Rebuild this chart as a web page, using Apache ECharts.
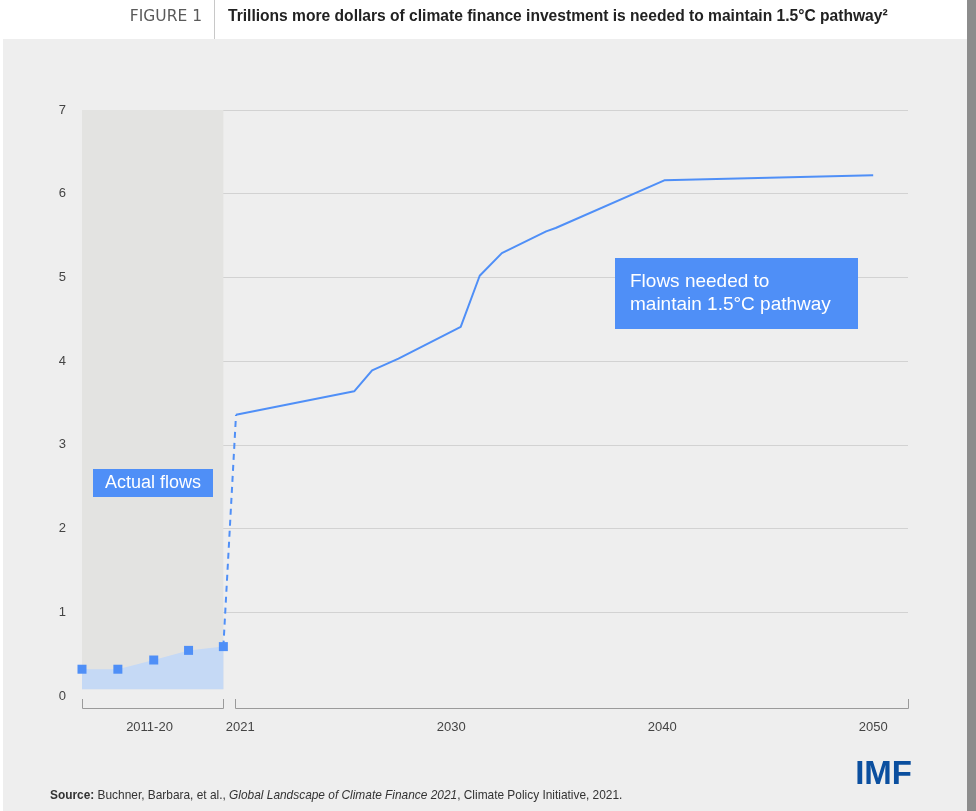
<!DOCTYPE html>
<html><head><meta charset="utf-8">
<script src="https://cdn.jsdelivr.net/npm/echarts@6/dist/echarts.min.js"></script>
<style>html,body{margin:0;padding:0;background:#fff}#c{width:976px;height:811px}</style>
</head><body><div id="c"></div>
<script>
// ---- data ----
// historical (2011-20) actual flows, trillions USD; x = position on the time axis
const histX = [2012.5, 2014.2, 2015.9, 2017.55, 2019.2];
const histY = [0.32, 0.32, 0.43, 0.545, 0.59];
const histBase = 0.08;
// flows needed to maintain 1.5°C pathway
const needX = [2019.8, 2025.4, 2026.25, 2027.5, 2030.45, 2031.35, 2032.4, 2034.5, 2034.95, 2040.1, 2050];
const needY = [3.36, 3.64, 3.89, 4.03, 4.41, 5.02, 5.29, 5.55, 5.59, 6.16, 6.22];
// x-axis tick labels and positions
const xTickPos = [2015.7, 2020.0, 2030, 2040, 2050];
const xTickLabels = ['2011-20', '2021', '2030', '2040', '2050'];
const xMin = 2012.5, xMax = 2051.65;
const yMax = 7;

const blue = '#4f8ff7';
const chart = echarts.init(document.getElementById('c'));
const FONT = '"Liberation Sans", Arial, sans-serif';

const brackets = [[histX[0], histX[histX.length - 1]], [needX[0] - 0.05, xMax]];

chart.setOption({
  backgroundColor: '#ffffff',
  animation: false,
  textStyle: { fontFamily: FONT },
  grid: { left: 82, right: 68, top: 110, bottom: 115 },
  graphic: [
    { type: 'rect', z: -10, shape: { x: 3, y: 39, width: 964, height: 772 }, style: { fill: '#eeeeee' } },
    { type: 'rect', z: -10, shape: { x: 967, y: 0, width: 9, height: 811 }, style: { fill: '#8c8c8c' } },
    { type: 'line', shape: { x1: 214.5, y1: 0, x2: 214.5, y2: 39 }, style: { stroke: '#c8c8c8', lineWidth: 1 } },
    { type: 'text', x: 202, y: 17, style: { text: 'FIGURE 1', font: 'normal 15.5px "DejaVu Sans", ' + FONT, fill: '#5a5a5a', align: 'right', verticalAlign: 'middle' } },
    { type: 'text', x: 228, y: 17, style: { text: 'Trillions more dollars of climate finance investment is needed to maintain 1.5°C pathway²', font: 'bold 15.6px ' + FONT, fill: '#222', align: 'left', verticalAlign: 'middle' } },
    { type: 'rect', z: 20, shape: { x: 93, y: 469, width: 120, height: 28 }, style: { fill: blue } },
    { type: 'text', z: 21, x: 153, y: 483.5, style: { text: 'Actual flows', font: '18px ' + FONT, fill: '#ffffff', align: 'center', verticalAlign: 'middle' } },
    { type: 'rect', z: 20, shape: { x: 615, y: 258, width: 243, height: 71 }, style: { fill: blue } },
    { type: 'text', z: 21, x: 630, y: 293.5, style: { text: 'Flows needed to\nmaintain 1.5°C pathway', font: '19px ' + FONT, fill: '#ffffff', lineHeight: 23, align: 'left', verticalAlign: 'middle' } },
    { type: 'text', x: 50, y: 796, style: {
      text: '{b|Source:} Buchner, Barbara, et al., {i|Global Landscape of Climate Finance 2021}, Climate Policy Initiative, 2021.',
      verticalAlign: 'middle',
      font: '11.9px ' + FONT, fill: '#333',
      rich: { b: { fontWeight: 'bold', fontSize: 11.9, fill: '#333' }, i: { fontStyle: 'italic', fontSize: 11.9, fill: '#333' } } } },
    { type: 'text', x: 912, y: 775, style: { text: 'IMF', font: 'bold 33px ' + FONT, fill: '#0b4f9f', align: 'right', verticalAlign: 'middle' } }
  ],
  xAxis: {
    type: 'value', min: xMin, max: xMax,
    axisLine: { show: false }, axisTick: { show: false }, splitLine: { show: false },
    axisLabel: {
      customValues: xTickPos, margin: 25, color: '#444', fontSize: 13,
      formatter: (v) => { const i = xTickPos.findIndex(p => Math.abs(p - v) < 1e-6); return i >= 0 ? xTickLabels[i] : ''; }
    }
  },
  yAxis: {
    type: 'value', min: 0, max: yMax, interval: 1,
    axisLine: { show: false }, axisTick: { show: false },
    axisLabel: { margin: 16, color: '#444', fontSize: 13 },
    splitLine: { showMinLine: false, lineStyle: { color: '#d2d2d2', width: 1 } }
  },
  series: [
    { // shaded historical period
      type: 'line', data: [], silent: true,
      markArea: { silent: true, itemStyle: { color: '#e3e3e1' },
        data: [[{ coord: [histX[0], yMax] }, { coord: [histX[histX.length - 1], histBase] }]] }
    },
    {
      type: 'line', name: 'Actual flows',
      data: histX.map((x, i) => [x, histY[i]]),
      symbol: 'rect', symbolSize: 9, itemStyle: { color: blue },
      lineStyle: { width: 0 },
      areaStyle: { color: '#c5d9f5', opacity: 1, origin: histBase },
      z: 5
    },
    {
      type: 'line', name: 'connector',
      data: [[histX[histX.length - 1], histY[histY.length - 1]], [needX[0], needY[0]]],
      symbol: 'none', lineStyle: { color: blue, width: 2, type: [6, 5] }, z: 4
    },
    {
      type: 'line', name: 'Flows needed',
      data: needX.map((x, i) => [x, needY[i]]),
      symbol: 'none', lineStyle: { color: blue, width: 2 }, z: 4
    },
    {
      type: 'custom', name: 'brackets', clip: false, silent: true,
      data: brackets,
      renderItem: (params, api) => {
        const a = api.coord([api.value(0), 0]);
        const b = api.coord([api.value(1), 0]);
        const y = a[1] + 12.5, yt = a[1] + 3;
        return { type: 'polyline', shape: { points: [[Math.round(a[0]) + 0.5, yt], [Math.round(a[0]) + 0.5, y], [Math.round(b[0]) + 0.5, y], [Math.round(b[0]) + 0.5, yt]] },
          style: { stroke: '#9a9a9a', lineWidth: 1, fill: null } };
      }
    }
  ]
});
</script></body></html>
